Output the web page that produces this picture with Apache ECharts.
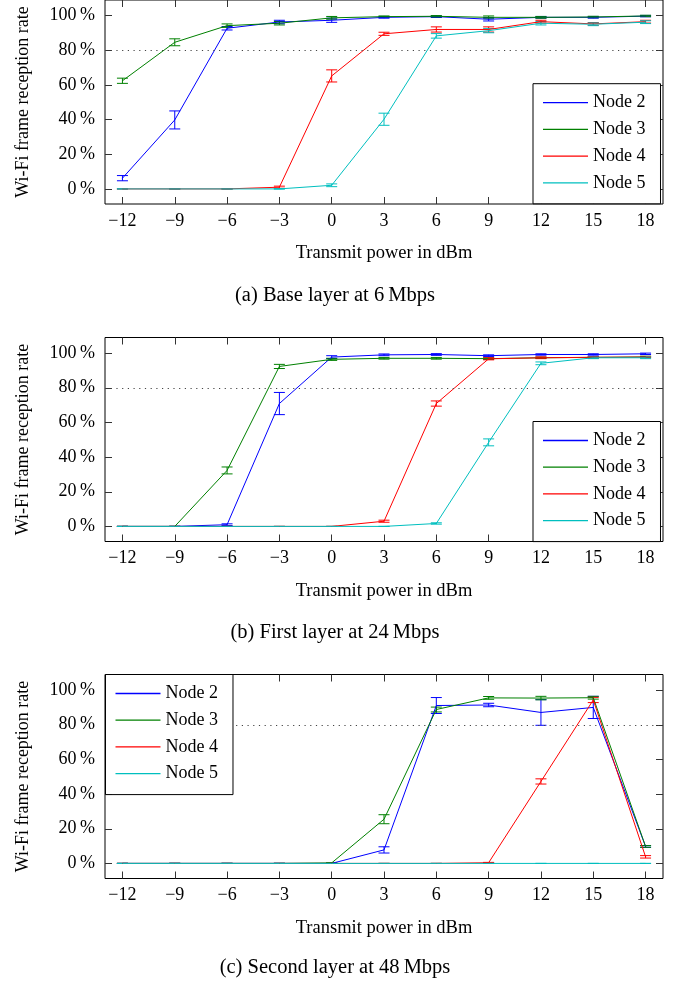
<!DOCTYPE html>
<html>
<head>
<meta charset="utf-8">
<script src="https://cdn.jsdelivr.net/npm/echarts@6/dist/echarts.min.js"></script>
<style>
  html, body { margin: 0; padding: 0; background: #fff; }
  #main { width: 683px; height: 983px; }
</style>
</head>
<body>
<div id="main"></div>
<script>
// transmit power steps (dBm)
const power = [-12, -9, -6, -3, 0, 3, 6, 9, 12, 15, 18];
const percentTicks = [0, 20, 40, 60, 80, 100];
const nodeNames = ['Node 2', 'Node 3', 'Node 4', 'Node 5'];
const nodeColors = ['#0000ff', '#008000', '#ff0000', '#00bfbf'];
const threshold = 80;
const captions = [
  '(a) Base layer at 6\u2009Mbps',
  '(b) First layer at 24\u2009Mbps',
  '(c) Second layer at 48\u2009Mbps'
];

// (a) base layer, 6 Mbps
const baseN2 = [6.2, 39.8, 92.7, 96.3, 97.3, 99.0, 99.4, 97.9, 99.0, 99.0, 99.7];
const baseN2Err = [1.5, 5.2, 1.0, 1.0, 1.2, 0.5, 0.5, 1.0, 0.5, 0.5, 0.4];
const baseN3 = [62.4, 84.6, 94.2, 95.6, 98.7, 99.4, 99.6, 99.0, 99.0, 99.2, 99.8];
const baseN3Err = [1.5, 2.0, 1.0, 1.0, 0.8, 0.4, 0.4, 0.8, 0.5, 0.4, 0.4];
const baseN4 = [0, 0, 0, 1.0, 65.2, 89.5, 92.0, 92.0, 96.5, 95.2, 96.5];
const baseN4Err = [0, 0, 0, 0.6, 3.5, 0.9, 1.5, 1.5, 0.8, 0.8, 0.8];
const baseN5 = [0, 0, 0, 0, 2.1, 40.2, 88.3, 91.3, 95.6, 95.0, 96.2];
const baseN5Err = [0, 0, 0, 0, 0.8, 3.5, 1.3, 1.2, 1.0, 0.8, 0.8];

// (b) first layer, 24 Mbps
const firstN2 = [0, 0, 1.0, 70.9, 97.7, 99.0, 99.2, 98.5, 99.2, 99.2, 99.6];
const firstN2Err = [0, 0, 0.5, 6.4, 0.8, 0.5, 0.5, 0.5, 0.4, 0.4, 0.4];
const firstN3 = [0, 0, 32.3, 92.3, 96.4, 97.0, 97.0, 96.8, 97.3, 97.5, 97.8];
const firstN3Err = [0, 0, 2.0, 1.2, 0.6, 0.5, 0.5, 0.5, 0.4, 0.4, 0.4];
const firstN4 = [0, 0, 0, 0, 0, 3.0, 70.9, 96.7, 97.3, 97.6, 97.7];
const firstN4Err = [0, 0, 0, 0, 0, 0.6, 1.5, 0.6, 0.5, 0.4, 0.4];
const firstN5 = [0, 0, 0, 0, 0, 0, 1.7, 48.5, 94.1, 97.3, 97.3];
const firstN5Err = [0, 0, 0, 0, 0, 0, 0.4, 2.0, 0.8, 0.5, 0.5];

// (c) second layer, 48 Mbps
const secondN2 = [0, 0, 0, 0, 0, 7.8, 91.1, 91.4, 87.1, 90.0, 9.8];
const secondN2Err = [0, 0, 0, 0, 0, 1.8, 4.6, 1.0, 7.4, 6.4, 0.5];
const secondN3 = [0, 0, 0, 0, 0.3, 25.5, 88.8, 95.5, 95.4, 95.6, 9.8];
const secondN3Err = [0, 0, 0, 0, 0, 2.6, 1.4, 0.8, 1.0, 0.8, 0.5];
const secondN4 = [0, 0, 0, 0, 0, 0, 0, 0.4, 47.3, 94.3, 3.8];
const secondN4Err = [0, 0, 0, 0, 0, 0, 0, 0.2, 1.5, 1.5, 0.7];
const secondN5 = [0, 0, 0, 0, 0, 0, 0, 0, 0, 0, 0];
const secondN5Err = [0, 0, 0, 0, 0, 0, 0, 0, 0, 0, 0];

const panels = [
  { means: [baseN2, baseN3, baseN4, baseN5], errs: [baseN2Err, baseN3Err, baseN4Err, baseN5Err] },
  { means: [firstN2, firstN3, firstN4, firstN5], errs: [firstN2Err, firstN3Err, firstN4Err, firstN5Err] },
  { means: [secondN2, secondN3, secondN4, secondN5], errs: [secondN2Err, secondN3Err, secondN4Err, secondN5Err] }
];

const font = "'Liberation Serif', 'Times New Roman', serif";
const gridTops = [0, 337.5, 674.5];
const captionY = [296, 632.5, 968];
const legendPos = [
  { left: 533, top: 83.7 },
  { left: 533, top: 421.5 },
  { left: 105.5, top: 674.5 }
];

const fmtPower = v => (v < 0 ? '\u2212' + (-v) : '' + v);

function errorBar(params, api) {
  const x = api.value(0);
  const top = api.coord([x, api.value(2)]);
  const bot = api.coord([x, api.value(1)]);
  const c = api.visual('color');
  const w = 5.5;
  const st = { stroke: c, lineWidth: 1 };
  return {
    type: 'group',
    children: [
      { type: 'line', shape: { x1: top[0], y1: top[1], x2: bot[0], y2: bot[1] }, style: st },
      { type: 'line', shape: { x1: top[0] - w, y1: top[1], x2: top[0] + w, y2: top[1] }, style: st },
      { type: 'line', shape: { x1: bot[0] - w, y1: bot[1], x2: bot[0] + w, y2: bot[1] }, style: st }
    ]
  };
}

const grid = [], xAxis = [], yAxis = [], series = [], legend = [], graphic = [];

panels.forEach((p, i) => {
  grid.push({
    left: 105, width: 558, top: gridTops[i], height: 204,
    show: true, borderColor: '#000', borderWidth: 1, backgroundColor: 'transparent'
  });
  const tick = { inside: true, length: 7, customValues: power, lineStyle: { color: '#333', width: 1 } };
  xAxis.push({
    gridIndex: i, type: 'value', min: -13, max: 19, position: 'bottom',
    axisLine: { show: false, onZero: false }, splitLine: { show: false },
    axisTick: tick,
    axisLabel: { customValues: power, formatter: fmtPower, margin: 8, fontFamily: font, fontSize: 18, color: '#000' },
    name: 'Transmit power in dBm', nameLocation: 'middle', nameGap: 40,
    nameTextStyle: { fontFamily: font, fontSize: 18.5, color: '#000' }
  });
  xAxis.push({
    gridIndex: i, type: 'value', min: -13, max: 19, position: 'top',
    axisLine: { show: false, onZero: false }, splitLine: { show: false },
    axisTick: tick, axisLabel: { show: false }
  });
  const ytick = { inside: true, length: 7, customValues: percentTicks, lineStyle: { color: '#333', width: 1 } };
  yAxis.push({
    gridIndex: i, type: 'value', min: -8.7, max: 109, position: 'left',
    axisLine: { show: false, onZero: false }, splitLine: { show: false },
    axisTick: ytick,
    axisLabel: { customValues: percentTicks, formatter: v => v + '\u2009%', margin: 10, fontFamily: font, fontSize: 18, color: '#000' },
    name: 'Wi-Fi frame reception rate', nameLocation: 'middle', nameGap: 73, nameRotate: 90,
    nameTextStyle: { fontFamily: font, fontSize: 18, color: '#000' }
  });
  yAxis.push({
    gridIndex: i, type: 'value', min: -8.7, max: 109, position: 'right',
    axisLine: { show: false, onZero: false }, splitLine: { show: false },
    axisTick: ytick, axisLabel: { show: false }
  });

  p.means.forEach((vals, k) => {
    const s = {
      name: nodeNames[k], type: 'line', xAxisIndex: 2 * i, yAxisIndex: 2 * i,
      data: power.map((x, j) => [x, vals[j]]),
      symbol: 'none', color: nodeColors[k],
      lineStyle: { width: 1, color: nodeColors[k] },
      z: 3, silent: true, animation: false
    };
    if (k === 0) {
      s.markLine = {
        silent: true, symbol: 'none', label: { show: false },
        lineStyle: { type: [1.2, 4.5], color: '#444', width: 1 },
        data: [{ yAxis: threshold }]
      };
    }
    series.push(s);
  });
  p.means.forEach((vals, k) => {
    series.push({
      name: nodeNames[k] + ' err', type: 'custom', xAxisIndex: 2 * i, yAxisIndex: 2 * i,
      renderItem: errorBar,
      itemStyle: { color: nodeColors[k] },
      data: power.map((x, j) => [x, vals[j] - p.errs[k][j], vals[j] + p.errs[k][j]]),
      z: 3, silent: true, animation: false
    });
  });

  legend.push({
    data: nodeNames, orient: 'vertical', selectedMode: false,
    left: legendPos[i].left, top: legendPos[i].top,
    icon: 'rect', itemWidth: 45, itemHeight: 1.3, itemGap: 8.7,
    padding: [10, 15, 12, 10],
    borderColor: '#000', borderWidth: 1, backgroundColor: '#fff',
    textStyle: { fontFamily: font, fontSize: 18, color: '#000', lineHeight: 18 },
    z: 10
  });

  graphic.push({
    type: 'text', x: 335, y: captionY[i], silent: true,
    style: {
      text: captions[i], fill: '#000', font: '20.5px ' + font,
      textAlign: 'center', textVerticalAlign: 'middle'
    }
  });
});

const chart = echarts.init(document.getElementById('main'));
chart.setOption({
  animation: false,
  backgroundColor: '#fff',
  grid, xAxis, yAxis, legend, series, graphic
});
</script>
</body>
</html>
